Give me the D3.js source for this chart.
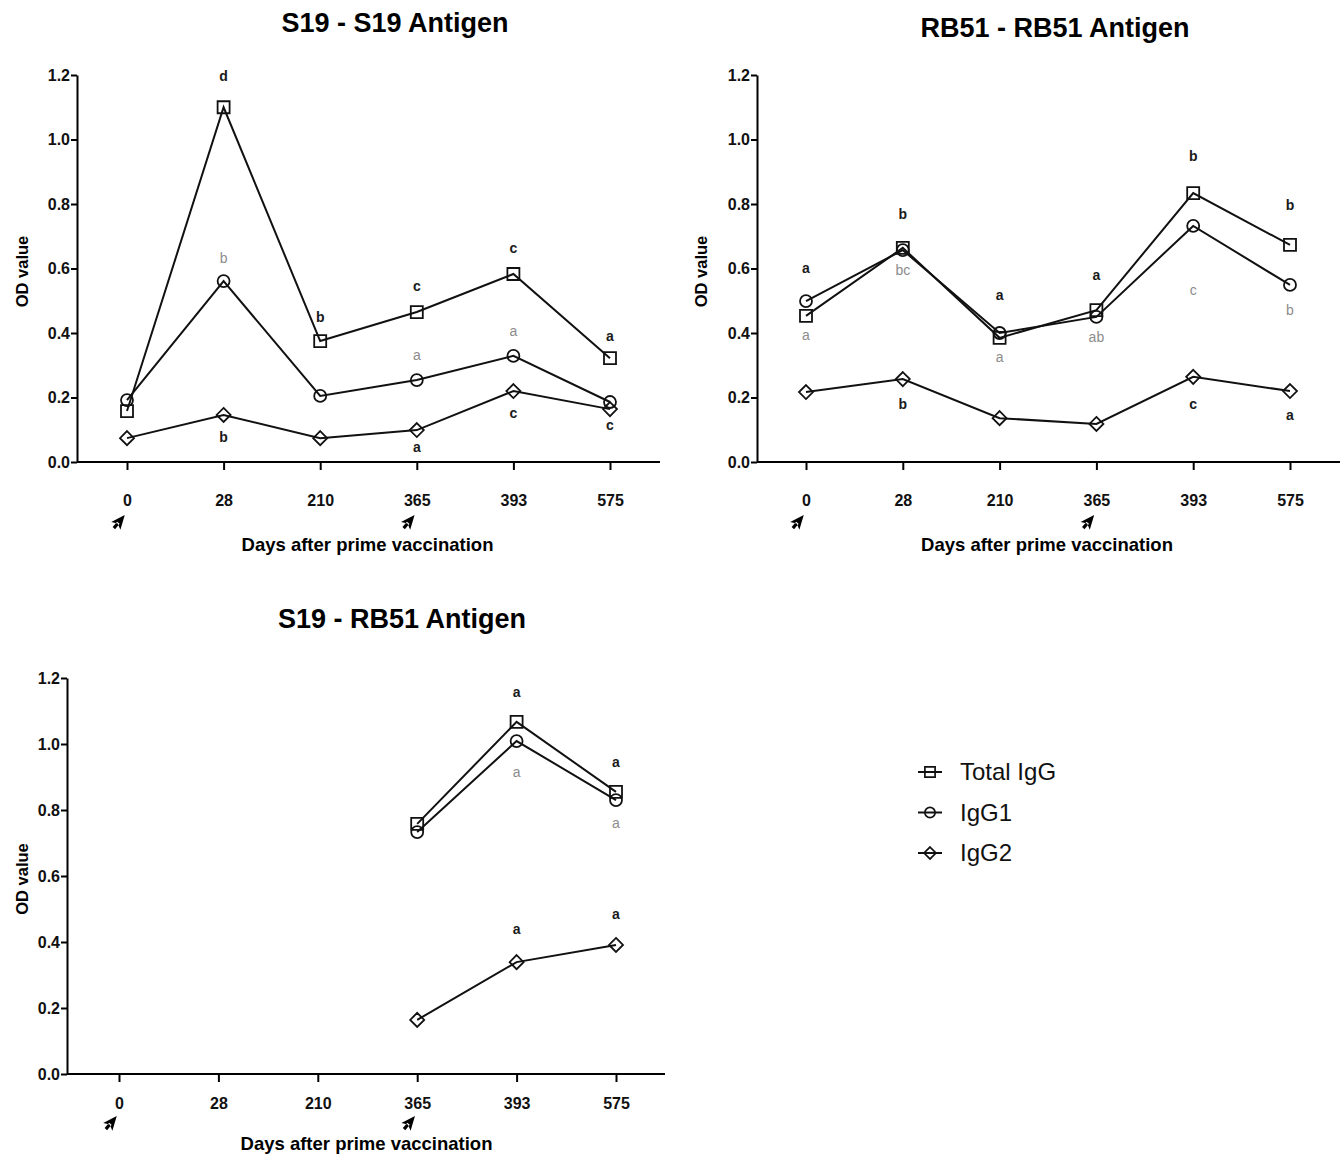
<!DOCTYPE html>
<html>
<head>
<meta charset="utf-8">
<script src="https://cdn.jsdelivr.net/npm/d3@7"></script>
<style>
  body { margin: 0; background: #fff; }
  svg text { font-family: "Liberation Sans", Arial, sans-serif; }
</style>
</head>
<body>
<div id="wrapper"></div>
<script>
// days after prime vaccination (categorical)
const days = ['0', '28', '210', '365', '393', '575'];
const boostDays = ['0', '365'];
const yTicks = [0, 0.2, 0.4, 0.6, 0.8, 1.0, 1.2];
const seriesNames = ['Total IgG', 'IgG1', 'IgG2'];

// S19 - S19 Antigen
const s19s19Total = [0.158, 1.10, 0.375, 0.465, 0.583, 0.322];
const s19s19IgG1 = [0.192, 0.561, 0.205, 0.254, 0.329, 0.186];
const s19s19IgG2 = [0.074, 0.146, 0.074, 0.099, 0.220, 0.164];
// letters: [day, text, OD position of label]
const s19s19TotalLetters = [['28', 'd', 1.197], ['210', 'b', 0.450], ['365', 'c', 0.546], ['393', 'c', 0.664], ['575', 'a', 0.391]];
const s19s19IgG1Letters = [['28', 'b', 0.633], ['365', 'a', 0.332], ['393', 'a', 0.406]];
const s19s19IgG2Letters = [['28', 'b', 0.078], ['365', 'a', 0.047], ['393', 'c', 0.152], ['575', 'c', 0.115]];

// RB51 - RB51 Antigen
const rb51rb51Total = [0.453, 0.664, 0.385, 0.471, 0.834, 0.673];
const rb51rb51IgG1 = [0.499, 0.657, 0.400, 0.450, 0.732, 0.549];
const rb51rb51IgG2 = [0.217, 0.257, 0.136, 0.118, 0.264, 0.220];
const rb51rb51TotalLetters = [['0', 'a', 0.602], ['28', 'b', 0.769], ['210', 'a', 0.518], ['365', 'a', 0.580], ['393', 'b', 0.949], ['575', 'b', 0.797]];
const rb51rb51IgG1Letters = [['0', 'a', 0.394], ['28', 'bc', 0.595], ['210', 'a', 0.326], ['365', 'ab', 0.388], ['393', 'c', 0.533], ['575', 'b', 0.471]];
const rb51rb51IgG2Letters = [['28', 'b', 0.180], ['393', 'c', 0.180], ['575', 'a', 0.146]];

// S19 - RB51 Antigen (only measured from day 365)
const s19rb51Total = [null, null, null, 0.758, 1.067, 0.855];
const s19rb51IgG1 = [null, null, null, 0.733, 1.009, 0.830];
const s19rb51IgG2 = [null, null, null, 0.164, 0.339, 0.391];
const s19rb51TotalLetters = [['393', 'a', 1.158], ['575', 'a', 0.945]];
const s19rb51IgG1Letters = [['393', 'a', 0.915], ['575', 'a', 0.761]];
const s19rb51IgG2Letters = [['393', 'a', 0.439], ['575', 'a', 0.485]];

// layout of the three panels
const panels = [
  { title: 'S19 - S19 Antigen', axisX: 77, x0: 127, x1: 610, axisEnd: 660, top: 75, bottom: 462, titleX: 395, titleY: 32,
    tickGap: 25, arrowGap: 60, labelGap: 89, yLabelX: 22,
    series: [s19s19Total, s19s19IgG1, s19s19IgG2], letters: [s19s19TotalLetters, s19s19IgG1Letters, s19s19IgG2Letters] },
  { title: 'RB51 - RB51 Antigen', axisX: 757, x0: 806, x1: 1290, axisEnd: 1340, top: 75, bottom: 462, titleX: 1055, titleY: 37,
    tickGap: 25, arrowGap: 60, labelGap: 89, yLabelX: 701,
    series: [rb51rb51Total, rb51rb51IgG1, rb51rb51IgG2], letters: [rb51rb51TotalLetters, rb51rb51IgG1Letters, rb51rb51IgG2Letters] },
  { title: 'S19 - RB51 Antigen', axisX: 67, x0: 119, x1: 616, axisEnd: 665, top: 678, bottom: 1074, titleX: 402, titleY: 628,
    tickGap: 16, arrowGap: 49, labelGap: 76, yLabelX: 22,
    series: [s19rb51Total, s19rb51IgG1, s19rb51IgG2], letters: [s19rb51TotalLetters, s19rb51IgG1Letters, s19rb51IgG2Letters] },
];

// marker shapes: square, circle, diamond
const markerPath = [
  'M-6,-6H6V6H-6Z',
  'M6,0A6,6 0 1,1 -6,0A6,6 0 1,1 6,0Z',
  'M0,-7L7,0L0,7L-7,0Z',
];
// letter colours: total & IgG2 dark bold, IgG1 grey
const letterFill = ['#1a1a1a', '#8c8c8c', '#1a1a1a'];
const letterWeight = ['bold', 'normal', 'bold'];

const svg = d3.select('#wrapper')
  .append('svg')
  .attr('width', 1340)
  .attr('height', 1156);

panels.forEach(p => {
  const xScale = d3.scalePoint().domain(days).range([p.x0, p.x1]);
  const yScale = d3.scaleLinear().domain([0, 1.2]).range([p.bottom, p.top]);
  const g = svg.append('g');

  // title
  g.append('text')
    .attr('x', p.titleX).attr('y', p.titleY)
    .attr('text-anchor', 'middle')
    .style('font-size', '27px').style('font-weight', 'bold')
    .text(p.title);

  // y axis
  const yAxis = g.append('g')
    .attr('transform', `translate(${p.axisX},0)`)
    .call(d3.axisLeft(yScale).tickValues(yTicks).tickFormat(d3.format('.1f')).tickSize(6).tickPadding(1).tickSizeOuter(0));
  yAxis.select('.domain').attr('stroke-width', 2);
  yAxis.selectAll('.tick line').attr('stroke-width', 2);
  yAxis.selectAll('.tick text')
    .style('font-family', '"Liberation Sans Narrow", "Liberation Sans", Arial, sans-serif')
    .style('font-size', '16px').style('font-weight', 'bold').attr('fill', '#111');

  // x axis
  const xAxis = g.append('g')
    .attr('transform', `translate(0,${p.bottom})`);
  xAxis.append('line')
    .attr('x1', p.axisX).attr('x2', p.axisEnd)
    .attr('stroke', '#000').attr('stroke-width', 2);
  xAxis.call(d3.axisBottom(xScale).tickSize(8).tickPadding(p.tickGap).tickSizeOuter(0));
  xAxis.select('.domain').remove();
  xAxis.selectAll('.tick line').attr('stroke-width', 2);
  xAxis.selectAll('.tick text')
    .style('font-family', '"Liberation Sans Narrow", "Liberation Sans", Arial, sans-serif')
    .style('font-size', '16px').style('font-weight', 'bold').attr('fill', '#111');

  // booster arrows under day 0 and 365
  g.selectAll('.arrow')
    .data(boostDays)
    .join('path')
    .attr('class', 'arrow')
    .attr('transform', d => `translate(${xScale(d) - 8},${p.bottom + p.arrowGap}) rotate(40)`)
    .attr('d', 'M0,-9L6,5L0,2L-6,5Z M-1.6,1V8H1.6V1Z')
    .attr('fill', '#000');

  // x axis title
  g.append('text')
    .attr('x', (p.x0 + p.x1) / 2 - 1).attr('y', p.bottom + p.labelGap)
    .attr('text-anchor', 'middle')
    .style('font-size', '18.5px').style('font-weight', 'bold')
    .text('Days after prime vaccination');

  // y axis title
  g.append('text')
    .attr('transform', `translate(${p.yLabelX + 6},${(p.top + p.bottom) / 2 + 3}) rotate(-90)`)
    .attr('text-anchor', 'middle')
    .style('font-size', '16.5px').style('font-weight', 'bold')
    .text('OD value');

  const lineGenerator = d3.line()
    .defined(d => d[1] != null)
    .x(d => xScale(d[0]))
    .y(d => yScale(d[1]));

  p.series.forEach(values => {
    const pts = days.map((d, j) => [d, values[j]]);
    g.append('path')
      .attr('d', lineGenerator(pts))
      .attr('fill', 'none')
      .attr('stroke', '#111')
      .attr('stroke-width', 2);
  });

  p.series.forEach((values, i) => {
    const pts = days.map((d, j) => [d, values[j]]).filter(d => d[1] != null);
    g.selectAll(`.m${i}`)
      .data(pts)
      .join('path')
      .attr('class', `m${i}`)
      .attr('transform', d => `translate(${xScale(d[0])},${yScale(d[1])})`)
      .attr('d', markerPath[i])
      .attr('fill', 'none')
      .attr('stroke', '#111')
      .attr('stroke-width', 1.8);
  });

  p.letters.forEach((list, i) => {
    g.selectAll(`.l${i}`)
      .data(list)
      .join('text')
      .attr('class', `l${i}`)
      .attr('x', d => xScale(d[0]))
      .attr('y', d => yScale(d[2]))
      .attr('dy', '0.35em')
      .attr('text-anchor', 'middle')
      .style('font-size', '14px')
      .style('font-weight', letterWeight[i])
      .attr('fill', letterFill[i])
      .text(d => d[1]);
  });
});

// legend
const legend = svg.append('g').attr('transform', 'translate(918,772)');
const legendItem = legend.selectAll('g')
  .data(seriesNames)
  .join('g')
  .attr('transform', (d, i) => `translate(0,${i * 40.5})`);
legendItem.append('line')
  .attr('x1', 0).attr('x2', 24)
  .attr('stroke', '#111').attr('stroke-width', 2);
legendItem.append('path')
  .attr('transform', 'translate(12,0) scale(0.85)')
  .attr('d', (d, i) => markerPath[i])
  .attr('fill', 'none')
  .attr('stroke', '#111')
  .attr('stroke-width', 2);
legendItem.append('text')
  .attr('x', 42).attr('y', 0).attr('dy', '0.35em')
  .style('font-size', '24px')
  .attr('fill', '#111')
  .text(d => d);
</script>
</body>
</html>
